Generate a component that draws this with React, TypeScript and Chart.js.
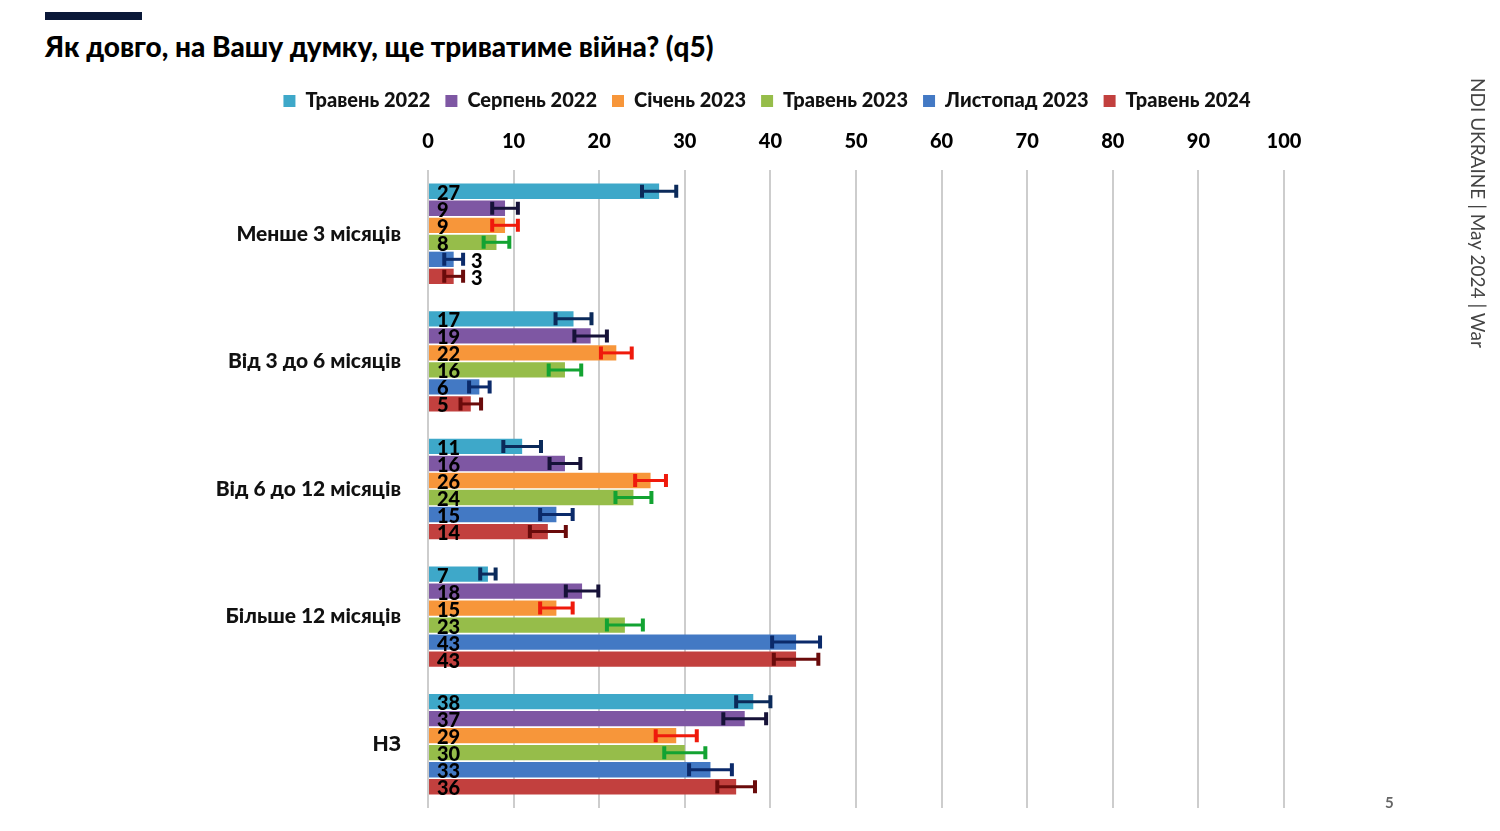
import React, { useEffect, useRef } from "react";
import { Chart, registerables } from "chart.js";

Chart.register(...registerables);

const categories = [
  "Менше 3 місяців",
  "Від 3 до 6 місяців",
  "Від 6 до 12 місяців",
  "Більше 12 місяців",
  "НЗ",
];
const seriesNames = [
  "Травень 2022",
  "Серпень 2022",
  "Січень 2023",
  "Травень 2023",
  "Листопад 2023",
  "Травень 2024",
];
const may2022 = [27, 17, 11, 7, 38];
const aug2022 = [9, 19, 16, 18, 37];
const jan2023 = [9, 22, 26, 15, 29];
const may2023 = [8, 16, 24, 23, 30];
const nov2023 = [3, 6, 15, 43, 33];
const may2024 = [3, 5, 14, 43, 36];

const errMay2022 = [2.0, 2.1, 2.2, 0.9, 2.0];
const errAug2022 = [1.5, 1.9, 1.8, 1.9, 2.5];
const errJan2023 = [1.5, 1.8, 1.8, 1.9, 2.4];
const errMay2023 = [1.5, 1.9, 2.1, 2.1, 2.4];
const errNov2023 = [1.1, 1.2, 1.9, 2.8, 2.5];
const errMay2024 = [1.1, 1.2, 2.1, 2.6, 2.2];

const xTicks = [0, 10, 20, 30, 40, 50, 60, 70, 80, 90, 100];

const barColors = ["#3ea8c9", "#7e57a3", "#f7963a", "#96bd4a", "#4379c4", "#c2403e"];
const errColors = ["#0b2a5a", "#161238", "#ef1a0c", "#13a332", "#0b2a6a", "#6a0b0b"];

const seriesValues = [may2022, aug2022, jan2023, may2023, nov2023, may2024];
const seriesErrors = [errMay2022, errAug2022, errJan2023, errMay2023, errNov2023, errMay2024];

const FONT = "Lato, 'Noto Sans', sans-serif";
const W = 900;

const errorBarsPlugin = {
  id: "errorBarsAndLabels",
  afterLayout(chart: any) {
    const lg = chart.legend;
    if (lg) {
      lg.left += 20;
      lg.right += 20;
    }
  },
  afterDatasetsDraw(chart: any) {
    const ctx = chart.ctx;
    const xs = chart.scales.x;
    chart.data.datasets.forEach((ds: any, di: number) => {
      const meta = chart.getDatasetMeta(di);
      meta.data.forEach((el: any, i: number) => {
        const v = ds.data[i];
        const e = seriesErrors[di][i];
        const x1 = xs.getPixelForValue(v - e);
        const x2 = xs.getPixelForValue(v + e);
        const y = el.y;
        ctx.save();
        ctx.strokeStyle = errColors[di];
        ctx.lineWidth = 3;
        ctx.beginPath();
        ctx.moveTo(x1, y);
        ctx.lineTo(x2, y);
        ctx.stroke();
        ctx.lineWidth = 4;
        ctx.beginPath();
        ctx.moveTo(x1, y - 6.5);
        ctx.lineTo(x1, y + 6.5);
        ctx.moveTo(x2, y - 6.5);
        ctx.lineTo(x2, y + 6.5);
        ctx.stroke();
        ctx.restore();
      });
    });
    chart.data.datasets.forEach((ds: any, di: number) => {
      const meta = chart.getDatasetMeta(di);
      meta.data.forEach((el: any, i: number) => {
        const v = ds.data[i];
        const e = seriesErrors[di][i];
        ctx.save();
        ctx.fillStyle = "#000";
        ctx.font = `${W} 20px ${FONT}`;
        ctx.textBaseline = "middle";
        ctx.textAlign = "left";
        let x = xs.getPixelForValue(0) + 9;
        if (v < 5) x = xs.getPixelForValue(v + e) + 8;
        ctx.fillText(String(v), x, el.y + 2);
        ctx.restore();
      });
    });
  },
};

export default function App() {
  const ref = useRef<HTMLCanvasElement | null>(null);
  useEffect(() => {
    if (!ref.current) return;
    const chart = new Chart(ref.current, {
      type: "bar",
      data: {
        labels: categories,
        datasets: seriesNames.map((name, i) => ({
          label: name,
          data: seriesValues[i],
          backgroundColor: barColors[i],
          borderWidth: 0,
          categoryPercentage: 0.8,
          barPercentage: 0.9,
        })),
      },
      options: {
        indexAxis: "y",
        responsive: false,
        animation: false,
        devicePixelRatio: 1,
        layout: { padding: { top: 76, left: 210, right: 216, bottom: 23 } },
        plugins: {
          legend: {
            position: "top",
            labels: {
              boxWidth: 12,
              boxHeight: 12,
              padding: 15,
              color: "#111",
              font: { family: FONT, size: 20, weight: W },
            },
          },
          tooltip: { enabled: false },
          title: { display: false },
        },
        scales: {
          x: {
            position: "top",
            min: 0,
            max: 100,
            afterBuildTicks: (s: any) => {
              s.ticks = xTicks.map((v) => ({ value: v }));
            },
            afterFit: (s: any) => {
              s.height = 49;
              s.paddingLeft = 0;
              s.paddingRight = 0;
            },
            grid: { color: "#cdcdcd", lineWidth: 2, drawTicks: false },
            border: { display: false },
            ticks: {
              color: "#000",
              padding: 16,
              font: { family: FONT, size: 20, weight: W },
            },
          },
          y: {
            afterFit: (s: any) => {
              s.width = 218;
              s.paddingTop = 0;
              s.paddingBottom = 0;
            },
            grid: { display: false, drawTicks: false },
            border: { display: false },
            ticks: {
              color: "#111",
              padding: 27,
              font: { family: FONT, size: 21, weight: W },
            },
          },
        },
      },
      plugins: [errorBarsPlugin],
    });
    return () => chart.destroy();
  }, []);

  return (
    <div
      style={{
        position: "absolute",
        left: 0,
        top: 0,
        width: 1500,
        height: 831,
        background: "#fff",
        overflow: "hidden",
        fontFamily: FONT,
      }}
    >
      <div
        style={{
          position: "absolute",
          left: 45,
          top: 12,
          width: 97,
          height: 8,
          background: "#0a1838",
        }}
      />
      <div
        style={{
          position: "absolute",
          left: 45,
          top: 28,
          fontSize: 28,
          fontWeight: W,
          color: "#000",
          whiteSpace: "nowrap",
          lineHeight: "36px",
        }}
      >
        Як довго, на Вашу думку, ще триватиме війна? (q5)
      </div>
      <canvas
        ref={ref}
        width={1500}
        height={831}
        style={{ position: "absolute", left: 0, top: 0 }}
      />
      <div
        style={{
          position: "absolute",
          left: 1478,
          top: 78,
          transformOrigin: "0 0",
          transform: "rotate(90deg) translateY(-50%)",
          fontSize: 19,
          color: "#444",
          whiteSpace: "nowrap",
          lineHeight: "20px",
        }}
      >
        NDI UKRAINE | May 2024 | War
      </div>
      <div
        style={{
          position: "absolute",
          left: 1385,
          top: 793,
          fontSize: 15,
          color: "#666",
          fontWeight: "bold",
        }}
      >
        5
      </div>
    </div>
  );
}
